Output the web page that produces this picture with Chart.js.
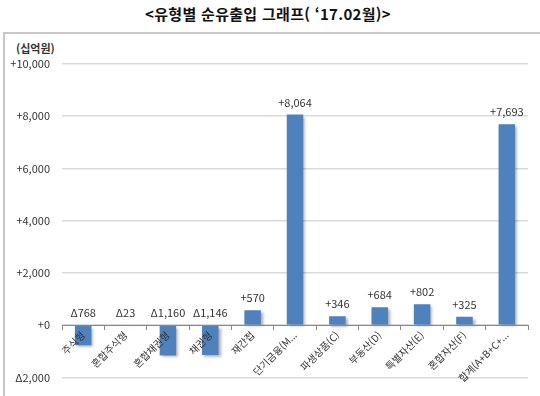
<!DOCTYPE html>
<html lang="ko">
<head>
<meta charset="utf-8">
<script src="https://cdn.jsdelivr.net/npm/chart.js@4.4.1/dist/chart.umd.min.js"></script>
<style>
  body { margin: 0; background: #fff; font-family: 'Noto Sans CJK KR', 'Noto Sans', sans-serif; }
  #wrap { position: relative; width: 540px; height: 396px; overflow: hidden; }
  #title { position: absolute; left: 0; top: 3px; width: 536px; text-align: center; font-size: 15px; font-weight: bold; color: #111; letter-spacing: 0.3px; }
  #frame { position: absolute; left: 3px; top: 32px; width: 560px; height: 400px; border-top: 2px solid #c8c8c8; border-left: 2px solid #c8c8c8; }
  #unit { position: absolute; left: 16px; top: 40px; font-size: 11px; font-weight: bold; color: #333; }
  canvas { position: absolute; left: 0; top: 0; }
</style>
</head>
<body>
<div id="wrap">
  <div id="title">&lt;유형별 순유출입 그래프( ‘17.02월)&gt;</div>
  <div id="frame"></div>
  <div id="unit">(십억원)</div>
  <canvas id="chart" width="540" height="396"></canvas>
</div>
<script>
// --- Data ---
const categories = ['주식형', '혼합주식형', '혼합채권형', '채권형', '재간접', '단기금융(M...', '파생상품(C)', '부동산(D)', '특별자산(E)', '혼합자산(F)', '합계(A+B+C+...'];
const netFlows = [-768, -23, -1160, -1146, 570, 8064, 346, 684, 802, 325, 7693];
const yTicks = [-2000, 0, 2000, 4000, 6000, 8000, 10000];

const FONT = "'Noto Sans CJK KR', 'Noto Sans', sans-serif";
const fmt = (v) => {
    const s = Math.abs(v).toLocaleString('en-US');
    return v < 0 ? 'Δ' + s : '+' + s;
};

// soft shadow under the bars
const shadowPlugin = {
    id: 'barShadow',
    beforeDatasetsDraw: (chart) => {
        const ctx = chart.ctx;
        ctx.save();
        ctx.shadowColor = 'rgba(0,0,0,0.35)';
        ctx.shadowBlur = 3;
        ctx.shadowOffsetX = 2;
        ctx.shadowOffsetY = 2;
    },
    afterDatasetsDraw: (chart) => {
        chart.ctx.restore();
    }
};

// value labels above each bar (negatives sit above the zero line)
const valueLabels = {
    id: 'valueLabels',
    afterDatasetsDraw: (chart) => {
        const ctx = chart.ctx;
        const yScale = chart.scales.y;
        const meta = chart.getDatasetMeta(0);
        ctx.save();
        ctx.font = '11px ' + FONT;
        ctx.fillStyle = '#333';
        ctx.textAlign = 'center';
        ctx.textBaseline = 'middle';
        meta.data.forEach((bar, i) => {
            const v = netFlows[i];
            const top = v >= 0 ? bar.y : yScale.getPixelForValue(0);
            ctx.fillText(fmt(v), bar.x, top - 12);
        });
        ctx.restore();
    }
};

new Chart(document.getElementById('chart'), {
    type: 'bar',
    data: {
        labels: categories,
        datasets: [{
            data: netFlows,
            backgroundColor: '#4f81bd',
            borderWidth: 0,
            barPercentage: 0.39,
            categoryPercentage: 1
        }]
    },
    options: {
        responsive: false,
        animation: false,
        layout: { padding: { left: 0, right: 12, top: 64, bottom: 13 } },
        plugins: {
            legend: { display: false },
            tooltip: { enabled: false }
        },
        scales: {
            y: {
                min: -2000,
                max: 10000,
                afterBuildTicks: (s) => { s.ticks = yTicks.map(v => ({ value: v })); },
                afterFit: (s) => { s.width = 62; },
                grid: { color: '#d9d9d9', lineWidth: 1.5, drawTicks: false },
                border: { display: false },
                ticks: {
                    padding: 12,
                    color: '#333',
                    font: { size: 11, family: FONT },
                    callback: (v) => fmt(v)
                }
            },
            x: {
                position: { y: 0 },
                grid: { display: true, drawOnChartArea: false, drawTicks: true, tickLength: 4, color: '#888', offset: true, z: 1 },
                border: { display: true, color: '#888', width: 1, z: 1 },
                ticks: {
                    z: 2,
                    autoSkip: false,
                    maxRotation: 45,
                    minRotation: 45,
                    padding: 0,
                    color: '#333',
                    font: { size: 10, family: FONT }
                }
            }
        }
    },
    plugins: [shadowPlugin, valueLabels]
});
</script>
</body>
</html>
